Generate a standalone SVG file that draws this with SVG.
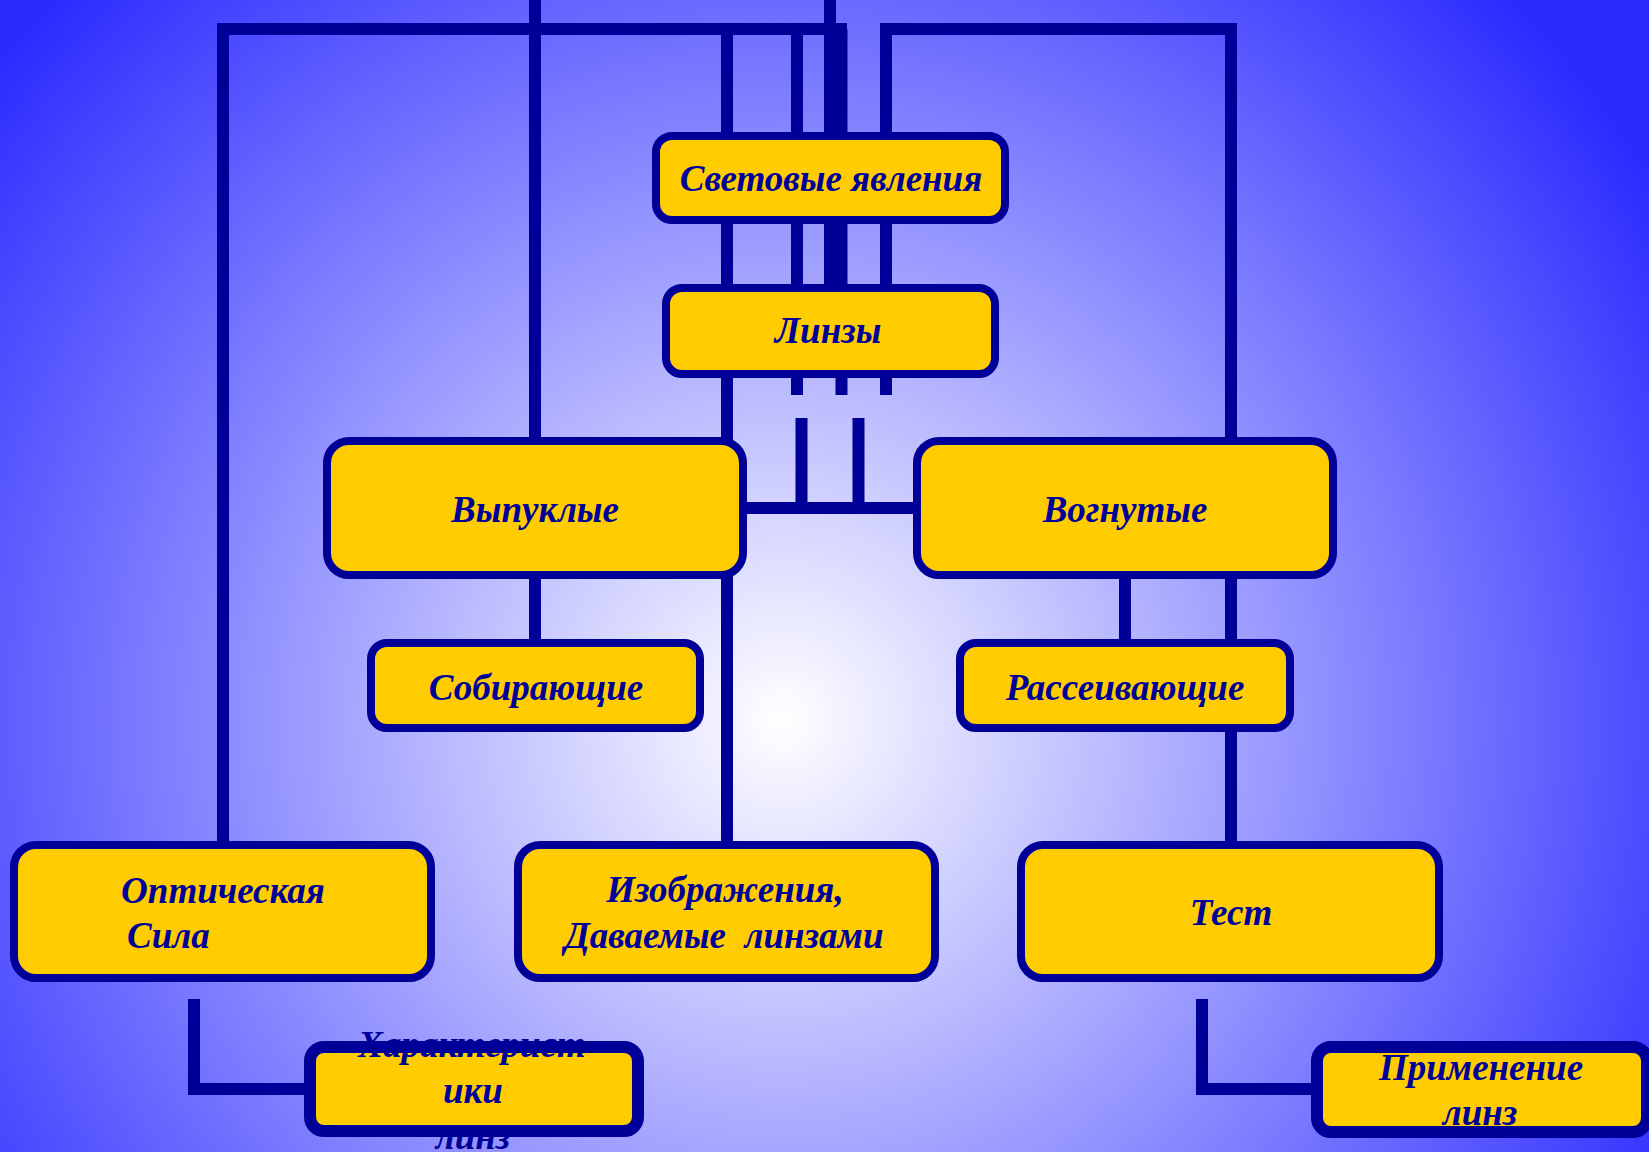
<svg xmlns="http://www.w3.org/2000/svg" width="1649" height="1152" viewBox="0 0 1649 1152">
<style>
.box{fill:#FFCC00;stroke:#000099;stroke-width:8}
.box2{fill:#FFCC00;stroke:#000099;stroke-width:12}
.ln{fill:none;stroke:#000099;stroke-width:12;stroke-linejoin:miter;stroke-linecap:butt}
.t{font-family:"Liberation Serif","Times New Roman",serif;font-weight:bold;font-style:italic;font-size:37px;fill:#000099;text-anchor:middle;white-space:pre}
</style>
<defs>
<radialGradient id="bg" gradientUnits="userSpaceOnUse" cx="783" cy="720" r="1030">
<stop offset="0" stop-color="#FFFFFF"/>
<stop offset="1" stop-color="#2A2AFF"/>
</radialGradient>
</defs>
<rect x="0" y="0" width="1649" height="1152" fill="url(#bg)"/>
<g id="connectors">
<path class="ln" d="M223,845 V29 H847"/>
<path class="ln" d="M886,395 V29 H1231 V845"/>
<path class="ln" d="M535,0 V643"/>
<path class="ln" d="M727,29 V845"/>
<path class="ln" d="M797,29 V395"/>
<path class="ln" d="M830,0 V288"/>
<path class="ln" d="M841.5,29 V395"/>
<path class="ln" d="M801.5,418 V508"/>
<path class="ln" d="M858.5,418 V508"/>
<path class="ln" d="M743,508 H917"/>
<path class="ln" d="M1125,575 V643"/>
<path class="ln" d="M194,999 V1089 H310"/>
<path class="ln" d="M1202,999 V1089 H1317"/>
</g>
<g id="n-svet"><rect class="box" x="656" y="136" width="349" height="84" rx="16"/><text class="t" x="831" y="191">Световые явления</text></g>
<g id="n-linzy"><rect class="box" x="666" y="288" width="329" height="86" rx="16"/><text class="t" x="828" y="343">Линзы</text></g>
<g id="n-vypuk"><rect class="box" x="327" y="441" width="416" height="134" rx="22"/><text class="t" x="535" y="522">Выпуклые</text></g>
<g id="n-vognut"><rect class="box" x="917" y="441" width="416" height="134" rx="22"/><text class="t" x="1125" y="522">Вогнутые</text></g>
<g id="n-sobir"><rect class="box" x="371" y="643" width="329" height="85" rx="16"/><text class="t" x="536" y="700">Собирающие</text></g>
<g id="n-rass"><rect class="box" x="960" y="643" width="330" height="85" rx="16"/><text class="t" x="1125" y="700">Рассеивающие</text></g>
<g id="n-opt"><rect class="box" x="14" y="845" width="417" height="133" rx="22"/><text class="t" x="223" y="903">Оптическая</text><text class="t" x="127" y="948" style="text-anchor:start">Сила</text></g>
<g id="n-izobr"><rect class="box" x="518" y="845" width="417" height="133" rx="22"/><text class="t" x="725" y="902">Изображения,</text><text class="t" x="724" y="948">Даваемые  линзами</text></g>
<g id="n-test"><rect class="box" x="1021" y="845" width="418" height="133" rx="22"/><text class="t" x="1231" y="925">Тест</text></g>
<g id="n-harakt"><rect class="box2" x="310" y="1047" width="328" height="84" rx="14"/><text class="t" x="472" y="1057">Характерист</text><text class="t" x="473" y="1103">ики</text><text class="t" x="473" y="1149">линз</text></g>
<g id="n-primen"><rect class="box2" x="1317" y="1047" width="330" height="85" rx="14"/><text class="t" x="1481" y="1080">Применение</text><text class="t" x="1480" y="1125">линз</text></g>
</svg>
